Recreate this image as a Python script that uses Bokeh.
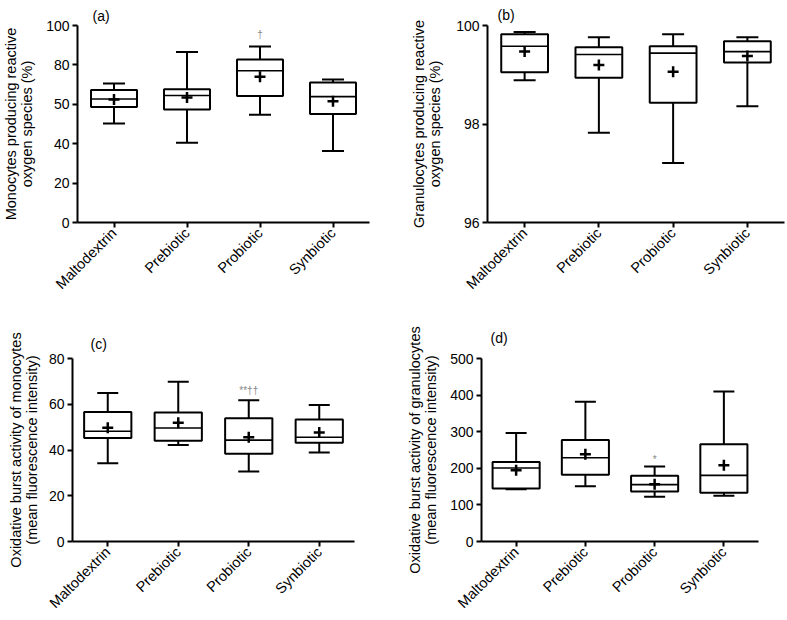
import math
from bokeh.plotting import figure
from bokeh.models import Range1d, FactorRange, FixedTicker, Label, ColumnDataSource
from bokeh.layouts import column, row
from bokeh.embed import file_html
from bokeh.resources import INLINE

categories = ["Maltodextrin", "Prebiotic", "Probiotic", "Synbiotic"]

# (a) Monocytes producing ROS (%)
a_low = [50.3, 40.5, 54.7, 36.3]
a_q1 = [58.6, 57.4, 64.2, 55.1]
a_med = [62.7, 64.5, 77.0, 63.9]
a_q3 = [67.2, 67.6, 82.8, 71.1]
a_high = [70.6, 86.5, 89.4, 72.6]
a_mean = [62.5, 63.5, 74.0, 61.5]
a_ticks = [0, 20, 40, 60, 80, 100]
a_tick_labels = ["0", "20", "40", "50", "80", "100"]

# (b) Granulocytes producing ROS (%)
b_low = [98.89, 97.82, 97.21, 98.36]
b_q1 = [99.05, 98.94, 98.43, 99.25]
b_med = [99.58, 99.41, 99.44, 99.47]
b_q3 = [99.82, 99.56, 99.58, 99.68]
b_high = [99.87, 99.76, 99.82, 99.76]
b_mean = [99.47, 99.20, 99.06, 99.38]
b_ticks = [96, 98, 100]
b_tick_labels = ["96", "98", "100"]

# (c) Oxidative burst activity of monocytes (MFI)
c_low = [34.2, 42.2, 30.6, 38.9]
c_q1 = [45.3, 44.0, 38.4, 43.2]
c_med = [48.2, 49.6, 44.3, 45.6]
c_q3 = [56.6, 56.4, 53.9, 53.3]
c_high = [64.9, 69.8, 61.8, 59.7]
c_mean = [49.7, 51.9, 45.6, 47.6]
c_ticks = [0, 20, 40, 60, 80]
c_tick_labels = ["0", "20", "40", "60", "80"]

# (d) Oxidative burst activity of granulocytes (MFI)
d_low = [142.9, 151.0, 122.0, 124.8]
d_q1 = [144.7, 182.6, 136.5, 132.9]
d_med = [200.7, 228.8, 155.5, 180.8]
d_q3 = [217.0, 277.6, 179.9, 265.8]
d_high = [296.6, 381.6, 205.2, 409.6]
d_mean = [194.4, 238.7, 156.4, 208.0]
d_ticks = [0, 100, 200, 300, 400, 500]
d_tick_labels = ["0", "100", "200", "300", "400", "500"]

FONT = "Liberation Sans"


def make_panel(low, q1, med, q3, high, mean, ticks, tick_labels, yr, ylabel,
               letter, letter_offset, letter_standoff, sig, sig_pos,
               width, height, bl, br, bt, bb, box_w, box_px, cap_px, lab_standoff):
    p = figure(x_range=FactorRange(*categories, range_padding=0),
               y_range=Range1d(*yr), width=width, height=height,
               output_backend="svg", toolbar_location=None,
               min_border_left=bl, min_border_right=br,
               min_border_top=bt, min_border_bottom=bb,
               title=letter)
    p.title.align = "left"
    p.title.offset = letter_offset
    p.title.standoff = letter_standoff
    p.title.text_font = FONT
    p.title.text_font_size = "14px"
    p.title.text_font_style = "normal"
    p.title.text_color = "black"

    p.outline_line_color = None
    p.xgrid.grid_line_color = None
    p.ygrid.grid_line_color = None
    p.background_fill_color = "white"
    p.border_fill_color = "white"

    src = ColumnDataSource(dict(x=categories, low=low, q1=q1, med=med,
                                q3=q3, high=high, mean=mean))
    # whisker stems
    p.segment(x0="x", y0="q3", x1="x", y1="high", source=src,
              line_color="black", line_width=2)
    p.segment(x0="x", y0="low", x1="x", y1="q1", source=src,
              line_color="black", line_width=2)
    # caps
    p.scatter(x="x", y="high", source=src, marker="dash", size=cap_px,
              line_color="black", line_width=2)
    p.scatter(x="x", y="low", source=src, marker="dash", size=cap_px,
              line_color="black", line_width=2)
    # boxes
    p.vbar(x="x", bottom="q1", top="q3", width=box_w, source=src,
           fill_color="white", line_color="black", line_width=2)
    # median
    p.scatter(x="x", y="med", source=src, marker="dash", size=box_px,
              line_color="black", line_width=1.6)
    # mean
    p.scatter(x="x", y="mean", source=src, marker="cross", size=11,
              line_color="black", line_width=2.5)

    # axes
    for ax in (p.xaxis[0], p.yaxis[0]):
        ax.axis_line_width = 2
        ax.axis_line_color = "black"
        ax.major_tick_line_width = 2
        ax.major_tick_line_color = "black"
        ax.major_tick_in = 0
        ax.major_tick_out = 5
        ax.minor_tick_line_color = None
        ax.major_label_text_font = FONT
        ax.major_label_text_color = "black"
    p.xaxis.major_label_text_font_size = "14.5px"
    p.yaxis.major_label_text_font_size = "14px"
    p.xaxis.major_label_orientation = math.pi / 4
    p.xaxis.major_label_standoff = 3
    p.yaxis.ticker = FixedTicker(ticks=ticks)
    p.yaxis.major_label_overrides = {t: l for t, l in zip(ticks, tick_labels)}
    p.yaxis.major_label_standoff = 3
    p.yaxis.axis_label = ylabel
    p.yaxis.axis_label_text_font = FONT
    p.yaxis.axis_label_text_font_size = "14.5px"
    p.yaxis.axis_label_text_line_height = 1.0
    p.yaxis.axis_label_text_font_style = "normal"
    p.yaxis.axis_label_text_color = "black"
    p.yaxis.axis_label_standoff = lab_standoff

    if sig:
        p.add_layout(Label(x=sig_pos[0], y=sig_pos[1], text=sig,
                           text_font=FONT, text_font_size="10px",
                           text_align="center", text_baseline="middle",
                           text_color="#888888"))
    return p


pa = make_panel(a_low, a_q1, a_med, a_q3, a_high, a_mean, a_ticks, a_tick_labels,
                (0, 100), "Monocytes producing reactive\noxygen species (%)",
                "(a)", 15, 3, "\u2020", (2.5, 95.5),
                389, 300, 73, 20, 25, 78, 0.63, 47, 22, 8)
pb = make_panel(b_low, b_q1, b_med, b_q3, b_high, b_mean, b_ticks, b_tick_labels,
                (96, 100), "Granulocytes producing reactive\noxygen species (%)",
                "(b)", 10, 5, None, None,
                397, 300, 98, 2, 25, 78, 0.63, 47, 22, 10)
pc = make_panel(c_low, c_q1, c_med, c_q3, c_high, c_mean, c_ticks, c_tick_labels,
                (0, 80), "Oxidative burst activity of monocytes\n(mean fluorescence intensity)",
                "(c)", 18, 14, "**\u2020\u2020", (2.5, 66.0),
                389, 319, 72, 35, 58, 74, 0.67, 47, 21, 6)
pd_ = make_panel(d_low, d_q1, d_med, d_q3, d_high, d_mean, d_ticks, d_tick_labels,
                 (0, 500), "Oxidative burst activity of granulocytes\n(mean fluorescence intensity)",
                 "(d)", 9, 26, "*", (2.5, 225.0),
                 397, 319, 92, 28, 58, 74, 0.68, 47, 21, 8)

layout = column(row(pa, pb, spacing=0), row(pc, pd_, spacing=0), spacing=0)

with open("out.html", "w") as f:
    f.write(file_html(layout, INLINE))
